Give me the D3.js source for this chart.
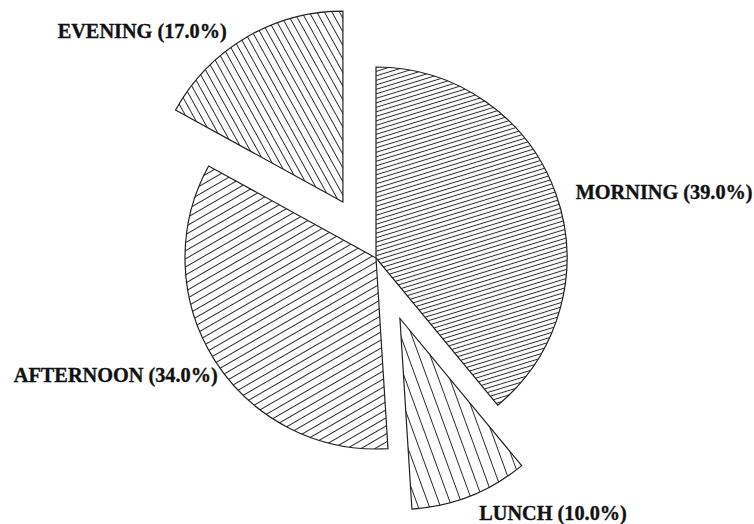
<!DOCTYPE html>
<html>
<head>
<meta charset="utf-8">
<script src="https://cdn.jsdelivr.net/npm/d3@7"></script>
<style>
  html, body { margin: 0; padding: 0; background: #fff; }
  svg { display: block; }
  .label { font-family: "Liberation Serif", "Times New Roman", serif; font-weight: bold; font-size: 20.3px; fill: #111; stroke: #111; stroke-width: 0.35px; }
</style>
</head>
<body>
<svg id="chart" width="754" height="524"></svg>
<script>
// Share of meals by time of day (percent)
const categories = ["MORNING", "LUNCH", "AFTERNOON", "EVENING"];
const values = [39.0, 10.0, 34.0, 17.0];
const exploded = [false, true, false, true];

// Hatch style for each slice: angle (deg, screen rotation) and line spacing (px)
const hatchAngle = [-17, 70, -30, 61];
const hatchGap = [4.3, 10.5, 7.0, 6.6];

// Label placement nudges relative to the slice's outer mid-point
const labelAnchor = ["start", "start", "end", "end"];
const labelDx = [20, 9, 3, -19];
const labelDy = [6, 24, 22, 0];

const width = 754, height = 524;
const cx = 376, cy = 258, radius = 191, explodeBy = 65;

const svg = d3.select("#chart");
const defs = svg.append("defs");

categories.forEach((c, i) => {
  const s = hatchGap[i];
  const p = defs.append("pattern")
    .attr("id", "hatch-" + i)
    .attr("patternUnits", "userSpaceOnUse")
    .attr("width", s)
    .attr("height", s)
    .attr("patternTransform", `rotate(${hatchAngle[i]})`);
  p.append("line")
    .attr("x1", -1).attr("x2", s + 1)
    .attr("y1", s / 2).attr("y2", s / 2)
    .attr("stroke", "#2a2a2a")
    .attr("stroke-width", 1);
});

const pie = d3.pie().sort(null).value(d => d.value);
const data = pie(categories.map((c, i) => ({ name: c, value: values[i], i })));
const arc = d3.arc().innerRadius(0).outerRadius(radius);

function offset(d) {
  if (!exploded[d.data.i]) return [0, 0];
  const a = (d.startAngle + d.endAngle) / 2;
  return [Math.sin(a) * explodeBy, -Math.cos(a) * explodeBy];
}

const g = svg.append("g").attr("transform", `translate(${cx},${cy})`);

const slices = g.selectAll("g.slice")
  .data(data)
  .join("g")
  .attr("class", "slice")
  .attr("transform", d => { const o = offset(d); return `translate(${o[0]},${o[1]})`; });

slices.append("path")
  .attr("d", arc)
  .attr("fill", "#fff");

slices.append("path")
  .attr("d", arc)
  .attr("fill", d => `url(#hatch-${d.data.i})`)
  .attr("stroke", "#222")
  .attr("stroke-width", 1.2)
  .attr("stroke-linejoin", "miter");

// Labels
slices.append("text")
  .attr("class", "label")
  .attr("text-anchor", d => labelAnchor[d.data.i])
  .attr("x", d => {
    const a = (d.startAngle + d.endAngle) / 2;
    return Math.sin(a) * radius + labelDx[d.data.i];
  })
  .attr("y", d => {
    const a = (d.startAngle + d.endAngle) / 2;
    return -Math.cos(a) * radius + labelDy[d.data.i];
  })
  .text(d => `${d.data.name} (${d.data.value.toFixed(1)}%)`);
</script>
</body>
</html>
